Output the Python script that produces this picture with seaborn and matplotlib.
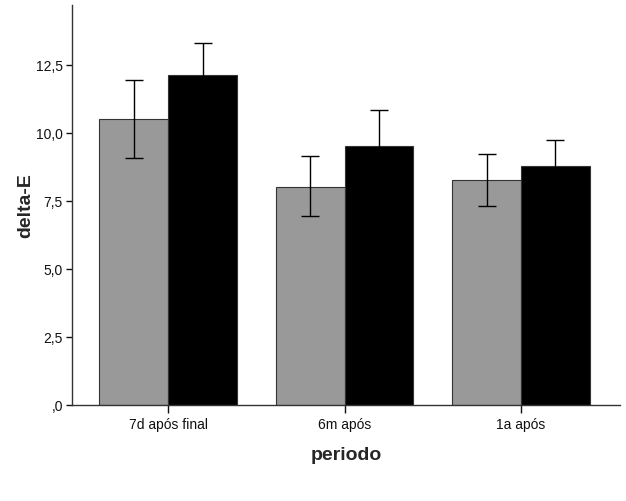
import numpy as np
import pandas as pd
import matplotlib
matplotlib.use("Agg")
import matplotlib.pyplot as plt
import seaborn as sns

# values (means and error bar ends)
periodos = ["7d após final", "6m após", "1a após"]
grupos = ["grupo 1", "grupo 2"]
media_g1 = [10.51, 8.01, 8.27]
media_g2 = [12.13, 9.52, 8.79]
sup_g1 = [11.95, 9.15, 9.23]
sup_g2 = [13.31, 10.85, 9.74]
inf_g1 = [9.08, 6.95, 7.32]
inf_g2 = [10.95, 8.19, 7.84]
y_ticks = [0, 2.5, 5, 7.5, 10, 12.5]
y_labels = [",0", "2,5", "5,0", "7,5", "10,0", "12,5"]

df = pd.DataFrame({
    "periodo": periodos * 2,
    "grupo": [grupos[0]] * 3 + [grupos[1]] * 3,
    "delta": media_g1 + media_g2,
    "sup": sup_g1 + sup_g2,
    "inf": inf_g1 + inf_g2,
})

sns.set_style("white")
plt.rcParams["font.family"] = ["Liberation Sans", "DejaVu Sans"]

fig = plt.figure(figsize=(6.26, 5.01), dpi=100)
ax = fig.add_axes([0.115, 0.1916, 0.875, 0.798])

sns.barplot(data=df, x="periodo", y="delta", hue="grupo", order=periodos,
            hue_order=grupos, palette=["#999999", "#000000"], width=0.78,
            errorbar=None, edgecolor="#333333", linewidth=0.8, legend=False,
            ax=ax)

# error bars at the centres of the drawn bars
bars = [p for p in ax.patches]
for bar, (_, row) in zip(bars, df.iterrows()):
    xc = bar.get_x() + bar.get_width() / 2
    ax.errorbar(xc, row["delta"],
                yerr=[[row["delta"] - row["inf"]], [row["sup"] - row["delta"]]],
                fmt="none", ecolor="black", elinewidth=1, capsize=6.5,
                capthick=1, zorder=5)

ax.set_xlim(-0.545, 2.56)
ax.set_ylim(0, 14.7)
ax.set_yticks(y_ticks)
ax.set_yticklabels(y_labels)
ax.tick_params(axis="both", direction="out", width=1, pad=2,
               labelsize=10, colors="#111111", left=True, bottom=True)
ax.tick_params(axis="y", length=4.5)
ax.tick_params(axis="x", length=6, pad=3)
ax.set_xlabel("periodo", fontsize=14, fontweight="bold", labelpad=11)
ax.set_ylabel("delta-E", fontsize=14, fontweight="bold", labelpad=1)
for s in ["top", "right"]:
    ax.spines[s].set_visible(False)
for s in ["left", "bottom"]:
    ax.spines[s].set_color("#333333")
    ax.spines[s].set_linewidth(1)

fig.savefig("out.png", dpi=100)
